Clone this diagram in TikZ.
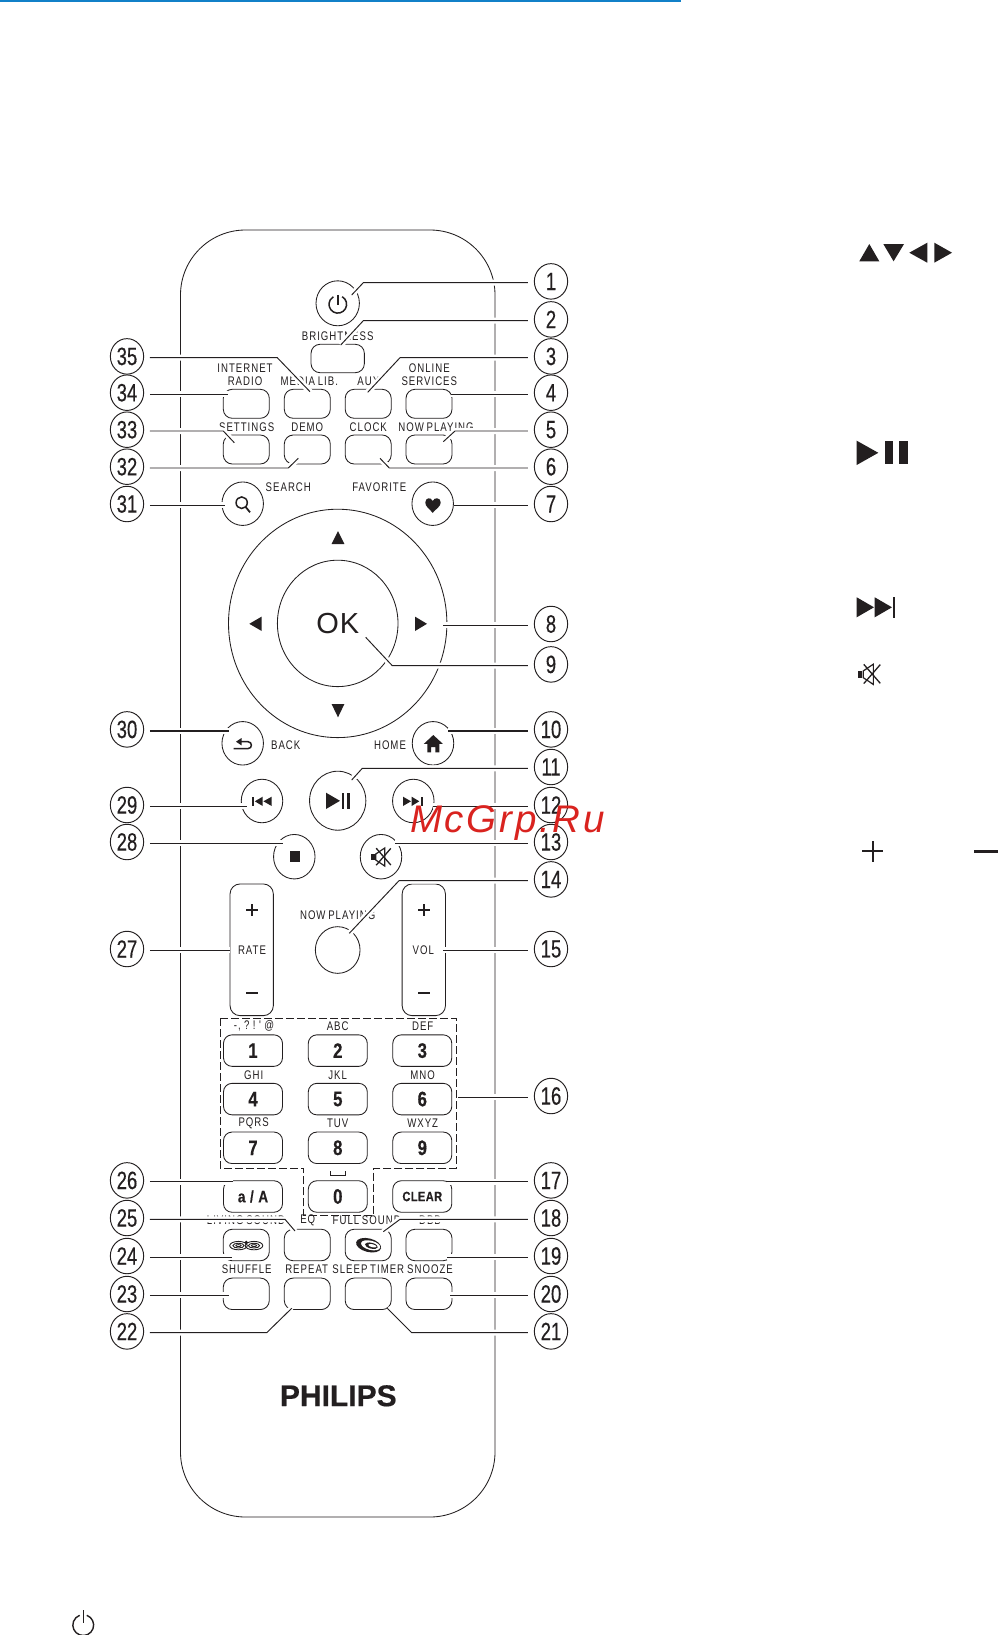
\documentclass[tikz,border=0pt]{standalone}
\usepackage{fontspec}
\usetikzlibrary{shapes.geometric}
\setmainfont{Liberation Sans}
\newfontfamily\labf[FakeStretch=0.77,LetterSpace=8,WordSpace=0.75]{Liberation Sans}
\newfontfamily\keyf[FakeStretch=0.8,FakeBold=0.4]{Liberation Sans Bold}
\newfontfamily\clearf[FakeStretch=0.82,LetterSpace=3,FakeBold=0.4]{Liberation Sans Bold}
\newfontfamily\numf[FakeStretch=0.74,FakeBold=0.35]{Liberation Sans}
\newfontfamily\wmf[LetterSpace=7]{Liberation Sans Italic}
\newfontfamily\brandf[FakeBold=0.5]{Liberation Sans Bold}
\definecolor{ink}{HTML}{231F20}
\definecolor{topblue}{HTML}{1180C8}
\definecolor{wmred}{HTML}{D9231F}
\tikzset{
  btn/.style={draw=ink,line width=0.85pt,rectangle,rounded corners=9pt,inner sep=0pt,outer sep=0pt,minimum width=46pt,minimum height=29pt},
  lowbtn/.style={btn,minimum height=31.5pt},
  keybtn/.style={btn,rounded corners=8.5pt,minimum width=59pt,minimum height=31.5pt,font=\keyf\fontsize{21}{21}\selectfont,text=ink},
  rnd/.style={draw=ink,line width=0.85pt,ellipse,inner sep=0pt,outer sep=0pt,minimum width=41.5pt,minimum height=43.5pt},
  lab/.style={inner sep=0pt,text=ink,font=\labf\fontsize{12.5}{12.5}\selectfont},
  callnum/.style={draw=ink,line width=0.95pt,ellipse,inner sep=0pt,outer sep=0pt,minimum width=33.3pt,minimum height=35.5pt,text=ink,font=\numf\fontsize{25}{25}\selectfont},
  leader/.style={draw=ink,line width=0.95pt,preaction={draw=white,line width=6pt}},
  thickleader/.style={leader,line width=1.9pt},
  slider/.style={btn,rounded corners=10pt,minimum width=43.3pt,minimum height=131.7pt},
  icon/.style={draw=ink,line width=1.5pt}
}
\newcommand\rc[4][leader]{\node[callnum] (c#2) at (551,#3-1.3) {#2};
  \draw[#1] ([shift={(-6.6,1.3)}]c#2.west) #4;}
\newcommand\lc[4][leader]{\node[callnum] (c#2) at (127,#3-1.3) {#2};
  \draw[#1] ([shift={(6.3,1.3)}]c#2.east) #4;}
\newcommand\mutesym[3]{%
  \begin{scope}[shift={(#1,#2)},scale=#3]
    \fill[ink] (-10,-3.2) rectangle (-6.4,3.2);
    \draw[ink,line width=1.2pt] (-5.2,-3) -- (3.7,-9) -- (3.7,9) -- (-5.2,3) -- cycle;
    \draw[ink,line width=1.3pt] (-4.8,-8.8) -- (9.8,8);
    \draw[ink,line width=1.3pt] (-4.8,8.2) -- (9.8,-8.6);
  \end{scope}}
\begin{document}
\begin{tikzpicture}[x=1pt,y=-1pt]
\useasboundingbox (0,0) rectangle (1005,1635);
\fill[white] (0,0) rectangle (1005,1635);
\fill[topblue] (0,0) rectangle (680.7,2.2);

% body
\node[draw=ink,line width=0.85pt,rectangle,rounded corners=65pt,inner sep=0pt,outer sep=0pt,minimum width=314.5pt,minimum height=1287pt] (body) at (337.75,873.5) {};

% top buttons
\node[rnd,minimum width=43.4pt,minimum height=45pt] (power) at (337.7,303.3) {};
\node[btn,minimum width=53.3pt,minimum height=28.4pt] (bright) at (337.7,358.5) {};
\node[btn] (radio) at (246.3,403.8) {};
\node[btn] (media) at (307.3,403.8) {};
\node[btn] (aux) at (368.2,403.8) {};
\node[btn] (online) at (429,403.8) {};
\node[btn] (settings) at (246.3,449.5) {};
\node[btn] (demo) at (307.3,449.5) {};
\node[btn] (clock) at (368.2,449.5) {};
\node[btn] (nowp) at (429,449.5) {};
\node[rnd] (search) at (242.7,503.7) {};
\node[rnd] (fav) at (432.7,503.7) {};

% ring
\node[draw=ink,line width=0.85pt,ellipse,inner sep=0pt,outer sep=0pt,minimum width=218.4pt,minimum height=228.4pt] (ring) at (337.7,623.4) {};
\node[draw=ink,line width=0.85pt,ellipse,inner sep=0pt,outer sep=0pt,minimum width=120.6pt,minimum height=126.4pt,text=ink,font=\fontsize{29}{29}\selectfont] (ok) at (337.7,623.4) {O\kern1ptK};
\fill[ink] (338,531) -- (344.4,544) -- (331.6,544) -- cycle;
\fill[ink] (338,717.3) -- (344.4,704) -- (331.6,704) -- cycle;
\fill[ink] (249.3,623.8) -- (261.7,616.6) -- (261.7,631) -- cycle;
\fill[ink] (427,623.8) -- (415,616.6) -- (415,631) -- cycle;

% round buttons
\node[rnd] (back) at (242.7,743.3) {};
\node[rnd] (home) at (433,743.3) {};
\node[rnd] (prev) at (262,801) {};
\node[rnd] (next) at (413.3,801) {};
\node[rnd,minimum width=56.3pt,minimum height=59pt] (play) at (337.7,800.7) {};
\node[rnd,minimum height=44.5pt] (stop) at (294.3,856.7) {};
\node[rnd,minimum height=44.5pt] (mute) at (381,856.7) {};
\node[slider] (rate) at (251.7,949.8) {};
\node[slider] (vol) at (423.8,949.8) {};
\node[rnd,minimum width=44.7pt,minimum height=46.7pt] (nowcirc) at (337.7,950) {};

% dashed number block
\draw[ink,line width=0.8pt,dash pattern=on 8pt off 3pt] (220.3,1018.3) -- (456.3,1018.3) -- (456.3,1168.3) -- (373.7,1168.3) -- (373.7,1215) -- (303.7,1215) -- (303.7,1168.3) -- (220.3,1168.3) -- cycle;

% keys
\node[keybtn] (k1) at (253,1050.6) {1};
\node[keybtn] (k2) at (337.8,1050.6) {2};
\node[keybtn] (k3) at (422.3,1050.6) {3};
\node[keybtn] (k4) at (253,1099.1) {4};
\node[keybtn] (k5) at (337.8,1099.1) {5};
\node[keybtn] (k6) at (422.3,1099.1) {6};
\node[keybtn] (k7) at (253,1147.8) {7};
\node[keybtn] (k8) at (337.8,1147.8) {8};
\node[keybtn] (k9) at (422.3,1147.8) {9};
\node[keybtn] (k0) at (337.8,1196.5) {0};
\node[keybtn,font=\clearf\fontsize{16.5}{16.5}\selectfont] (ka) at (253,1196.5) {a\;/\;A};
\node[keybtn,font=\clearf\fontsize{13.5}{13.5}\selectfont] (kc) at (422.3,1196.5) {CLEAR};
\draw[ink,line width=0.9pt] (330,1171) -- (330,1175) -- (345.3,1175) -- (345.3,1171);

% bottom buttons
\node[lowbtn] (living) at (246.3,1245) {};
\node[lowbtn] (eq) at (307.3,1245) {};
\node[lowbtn] (full) at (368.2,1245) {};
\node[lowbtn] (dbb) at (429,1245) {};
\node[lowbtn] (shuffle) at (246.3,1293.8) {};
\node[lowbtn] (repeat) at (307.3,1293.8) {};
\node[lowbtn] (sleep) at (368.2,1293.8) {};
\node[lowbtn] (snooze) at (429,1293.8) {};

% labels
\node[lab] (tbright) at (337.7,335.7) {BRIGHTNESS};
\node[lab] (tinet) at (245,367.7) {INTERNET};
\node[lab] (tradio) at (245,381) {RADIO};
\node[lab] (tmedia) at (309.3,381.3) {MEDIA LIB.};
\node[lab] (taux) at (368.3,381.3) {AUX};
\node[lab] (tonl) at (429.3,367.7) {ONLINE};
\node[lab] (tserv) at (429.3,381) {SERVICES};
\node[lab] (tsett) at (246.7,426.7) {SETTINGS};
\node[lab] (tdemo) at (307.3,426.7) {DEMO};
\node[lab] (tclock) at (368.3,426.7) {CLOCK};
\node[lab] (tnow) at (436,426.7) {NOW PLAYING};
\node[lab] (tsearch) at (288.3,487.3) {SEARCH};
\node[lab] (tfav) at (379.3,487.3) {FAVORITE};
\node[lab] (tback) at (285.7,745) {BACK};
\node[lab] (thome) at (390,745) {HOME};
\node[lab] (tnow2) at (337.7,915) {NOW PLAYING};
\node[lab] (trate) at (252,950.3) {RATE};
\node[lab] (tvol) at (423.3,950.3) {VOL};
\node[lab] (t1) at (254,1026) {-,\;?\;!\;'\;@};
\node[lab] (t2) at (337.7,1026) {ABC};
\node[lab] (t3) at (422.7,1026) {DEF};
\node[lab] (t4) at (253.7,1075) {GHI};
\node[lab] (t5) at (337.7,1075) {JKL};
\node[lab] (t6) at (422.7,1075) {MNO};
\node[lab] (t7) at (253.7,1123.3) {PQRS};
\node[lab] (t8) at (337.7,1123.3) {TUV};
\node[lab] (t9) at (422.7,1123.3) {WXYZ};
\node[lab] (tliv) at (246,1220.5) {LIVING SOUND};
\node[lab] (teq) at (307.7,1220.5) {EQ};
\node[lab] (tfull) at (366.7,1220.5) {FULL SOUND};
\node[lab] (tdbb) at (430,1220.5) {DBB};
\node[lab] (tshuf) at (246.7,1269.3) {SHUFFLE};
\node[lab] (trep) at (306.7,1269.3) {REPEAT};
\node[lab] (tsleep) at (368.3,1269.3) {SLEEP TIMER};
\node[lab] (tsnz) at (430,1269.3) {SNOOZE};

% icons on buttons
\draw[icon] (342.2,296.7) arc[start angle=60,end angle=-240,radius=8.8pt];
\draw[icon] (338,294.8) -- (338,304.5);
\draw[ink,line width=1.5pt] (241.7,502.7) ellipse[x radius=5.6pt,y radius=5.8pt];
\draw[ink,line width=1.8pt] (245.5,506.8) -- (250,512.3);
\fill[ink] (432.7,512.8) .. controls (429,508.5) and (425.3,506.5) .. (425.3,502.5) .. controls (425.3,497.5) and (431,496.8) .. (432.7,501) .. controls (434.4,496.8) and (440.7,497.5) .. (440.7,502.5) .. controls (440.7,506.5) and (436.4,508.5) .. (432.7,512.8) -- cycle;
\draw[ink,line width=1.5pt] (233.5,748.6) -- (248,748.6) .. controls (252.5,748.6) and (252.5,741.7) .. (248,741.7) -- (240,741.7);
\fill[ink] (236,741.7) -- (241.5,738) -- (241.5,745.4) -- cycle;
\fill[ink] (433.3,735) -- (442.8,743.8) -- (439.4,743.8) -- (439.4,752.4) -- (435.4,752.4) -- (435.4,747) -- (431.2,747) -- (431.2,752.4) -- (427.4,752.4) -- (427.4,743.8) -- (423.9,743.8) -- cycle;
\fill[ink] (252.3,796.7) rectangle (254.3,806);
\fill[ink] (254.8,801.3) -- (262.7,796.7) -- (262.7,806) -- cycle;
\fill[ink] (263.4,801.3) -- (271.7,796.7) -- (271.7,806) -- cycle;
\fill[ink] (403,796.7) -- (411,801.3) -- (403,806) -- cycle;
\fill[ink] (411.6,796.7) -- (419.3,801.3) -- (411.6,806) -- cycle;
\fill[ink] (420.6,796.7) rectangle (422.8,806);
\fill[ink] (326,792.7) -- (340,800.8) -- (326,809) -- cycle;
\fill[ink] (342.3,792.7) rectangle (344.4,809);
\fill[ink] (347.2,792.7) rectangle (349.7,809);
\fill[ink] (289.5,851) rectangle (300,861.7);
\mutesym{381}{857}{1}
\fill[ink] (245.7,908.9) rectangle (258.3,911.1);
\fill[ink] (250.9,903.7) rectangle (253.1,916.3);
\fill[ink] (245.7,992.2) rectangle (258.3,994.4);
\fill[ink] (417.7,908.9) rectangle (430.3,911.1);
\fill[ink] (422.9,903.7) rectangle (425.1,916.3);
\fill[ink] (417.7,992.2) rectangle (430.3,994.4);
% living sound glyph
\foreach \xc in {238.5,254}{
  \draw[ink,line width=0.9pt] (\xc,1245.6) ellipse[x radius=8.8pt,y radius=4.2pt];
  \draw[ink,line width=0.9pt] (\xc,1245.6) ellipse[x radius=5.6pt,y radius=2.4pt];
  \draw[ink,line width=0.8pt] (\xc,1245.6) ellipse[x radius=2.6pt,y radius=1pt];
}
\fill[ink] (246.3,1242.4) circle[radius=1.8pt];
% full sound glyph
\begin{scope}[rotate around={-14:(368.6,1245.2)}]
  \fill[ink] (368.6,1245.2) ellipse[x radius=12.8pt,y radius=6.8pt];
  \fill[white] (370.6,1244.8) ellipse[x radius=9.8pt,y radius=4.6pt];
  \fill[ink] (371.4,1245) ellipse[x radius=6.6pt,y radius=2.9pt];
  \fill[white] (372.4,1244.8) ellipse[x radius=4.2pt,y radius=1.5pt];
\end{scope}

% PHILIPS
\node[inner sep=0pt,text=ink,font=\brandf\fontsize{30}{30}\selectfont] (brand) at (338.3,1395.8) {PHILIPS};

% leader ends
\coordinate (e1) at (351.7,295);
\coordinate (e2) at (340.7,345);
\coordinate (e3) at (367.7,392.3);
\coordinate (e4) at (450.7,394);
\coordinate (e5) at (443.3,441.7);
\coordinate (e6) at (380,458.3);
\coordinate (e7) at (454,505.3);
\coordinate (e8) at (443.3,625.3);
\coordinate (e9) at (365.7,637.3);
\coordinate (e10) at (448.3,730.7);
\coordinate (e11) at (351.7,780);
\coordinate (e12) at (433,806.3);
\coordinate (e13) at (395,843.3);
\coordinate (e14) at (349.3,933.3);
\coordinate (e15) at (443.3,950.3);
\coordinate (e16) at (458.3,1097.3);
\coordinate (e17) at (446.7,1181.7);
\coordinate (e18) at (383.3,1231.7);
\coordinate (e19) at (446.7,1257.3);
\coordinate (e20) at (450,1295.3);
\coordinate (e21) at (387.3,1308.3);
\coordinate (e22) at (291.7,1308.3);
\coordinate (e23) at (229.3,1295.3);
\coordinate (e24) at (231.7,1257.3);
\coordinate (e25) at (295,1231);
\coordinate (e26) at (232.7,1181.7);
\coordinate (e27) at (230,950.3);
\coordinate (e28) at (283.3,843.3);
\coordinate (e29) at (246.7,806.3);
\coordinate (e30) at (229.3,730.7);
\coordinate (e31) at (225,505.3);
\coordinate (e32) at (298.3,458.3);
\coordinate (e33) at (234.3,442.7);
\coordinate (e34) at (228.3,394);
\coordinate (e35) at (310,391.7);

% callouts and leaders
\rc{1}{282.7}{-- (363.3,282.7) -- (e1)}
\rc{2}{320.7}{-- (363.3,320.7) -- (e2)}
\rc{3}{357.7}{-- (400,357.7) -- (e3)}
\rc{4}{394}{-- (e4)}
\rc{5}{431}{-- (455,431) -- (e5)}
\rc{6}{468}{-- (389.3,468) -- (e6)}
\rc{7}{505.3}{-- (e7)}
\rc{8}{625.3}{-- (e8)}
\rc{9}{665.7}{-- (392.3,665.7) -- (e9)}
\rc[thickleader]{10}{730.7}{-- (e10)}
\rc{11}{768.3}{-- (362.3,768.3) -- (e11)}
\rc{12}{806.3}{-- (e12)}
\rc{13}{843.3}{-- (e13)}
\rc{14}{880.7}{-- (399,880.7) -- (e14)}
\rc{15}{950.3}{-- (e15)}
\rc{16}{1097.3}{-- (e16)}
\rc{17}{1181.7}{-- (e17)}
\rc{18}{1219.3}{-- (400,1219.3) -- (e18)}
\rc{19}{1257.3}{-- (e19)}
\rc{20}{1295.3}{-- (e20)}
\rc{21}{1332.7}{-- (411.7,1332.7) -- (e21)}
\lc{22}{1332.7}{-- (266.7,1332.7) -- (e22)}
\lc{23}{1295.3}{-- (e23)}
\lc{24}{1257.3}{-- (e24)}
\lc{25}{1219.3}{-- (285,1219.3) -- (e25)}
\lc{26}{1181.7}{-- (e26)}
\lc{27}{950.3}{-- (e27)}
\lc{28}{843.3}{-- (e28)}
\lc{29}{806.3}{-- (e29)}
\lc[thickleader]{30}{730.7}{-- (e30)}
\lc{31}{505.3}{-- (e31)}
\lc{32}{468}{-- (288.3,468) -- (e32)}
\lc{33}{431}{-- (223.3,431) -- (e33)}
\lc{34}{394}{-- (e34)}
\lc{35}{357.7}{-- (277.3,357.7) -- (e35)}

% symbols in the right column
\fill[ink] (869.3,244) -- (879.3,261.3) -- (859.3,261.3) -- cycle;
\fill[ink] (893.6,261.3) -- (904,244) -- (883.3,244) -- cycle;
\fill[ink] (909.3,252.7) -- (927.3,242.7) -- (927.3,262.7) -- cycle;
\fill[ink] (952,252.7) -- (934.3,242.7) -- (934.3,262.7) -- cycle;
\fill[ink] (856.7,440.7) -- (878.3,452.8) -- (856.7,465) -- cycle;
\fill[ink] (885,441.3) rectangle (893.3,464.3);
\fill[ink] (899.3,441.3) rectangle (907.7,464.3);
\fill[ink] (856.7,597.3) -- (874,607.3) -- (856.7,617.3) -- cycle;
\fill[ink] (874.7,597.3) -- (892,607.3) -- (874.7,617.3) -- cycle;
\fill[ink] (893,596.7) rectangle (895,618);
\mutesym{869.2}{674.3}{1.13}
\fill[ink] (862,850.3) rectangle (883,852.3);
\fill[ink] (871.7,841) rectangle (873.7,862);
\fill[ink] (974,850) rectangle (998,852.6);
\draw[ink,line width=1.4pt] (86.8,1615.3) arc[start angle=70,end angle=-250,radius=10.4pt];
\draw[ink,line width=1.4pt] (83.3,1610) -- (83.3,1623);

% watermark
\node[anchor=base west,inner sep=0pt,text=wmred,font=\wmf\fontsize{38.5}{38.5}\selectfont] (wm) at (410,832) {McGrp.Ru};
\end{tikzpicture}
\end{document}
